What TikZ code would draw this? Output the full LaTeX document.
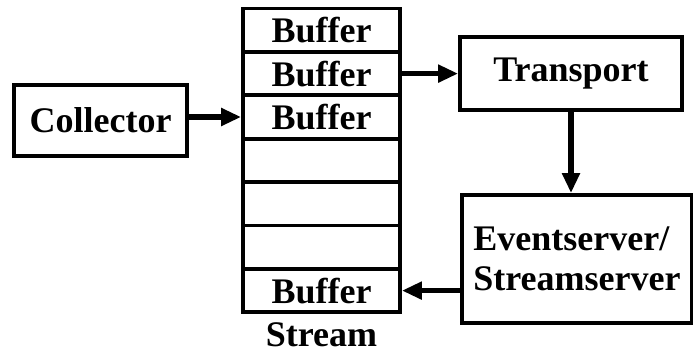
\documentclass[tikz,border=0pt]{standalone}
\usepackage{fontspec}
\setmainfont{Liberation Serif}
\usetikzlibrary{arrows.meta,positioning}

\begin{document}
\begin{tikzpicture}
    [   x=1pt, y=-1pt
    ,   cell/.style=
        {   draw
        ,   line width=3.8pt
        ,   minimum width=157pt
        ,   minimum height=43.4pt
        ,   inner sep=0pt
        ,   font=\fontsize{36}{40}\selectfont\bfseries
        }
    ,   box/.style=
        {   draw
        ,   line width=3.8pt
        ,   inner sep=0pt
        ,   font=\fontsize{36}{40}\selectfont\bfseries
        }
    ,   flow/.style=
        {   ->
        ,   line width=5.5pt
        }
    ,   >={Triangle[length=20pt,width=17pt]}
    ]
    \useasboundingbox (0,0) rectangle (693,354);
    % the stream column
    \foreach\n/\txt in {1/Buffer,2/Buffer,3/Buffer,4/,5/,6/,7/Buffer}
    {   \node[cell] (B\n) at (321.5, {8.5+43.4*\n-21.7}) {\txt};
    }
    \node[box, draw=none, below=7pt of B7.south, anchor=north] (S) {Stream};
    \node[box, minimum width=173pt, minimum height=71pt] (C) at (100.5,120.5) {Collector};
    \node[box, minimum width=222pt, minimum height=73pt] (T) at (571,73.5) {Transport};
    \node[box, minimum width=230pt, minimum height=128pt, align=left] (E) at (577,259)
        {Eventserver/\\Streamserver};
    % arrows
    \draw[flow] (C.east |- B3.west) -- (B3.west);
    \draw[flow] (B2.east) -- (T.west |- B2.east);
    \draw[flow] (T.south) -- (T.south |- E.north);
    \draw[flow] (E.west |- B7.east) -- (B7.east);
\end{tikzpicture}
\end{document}
